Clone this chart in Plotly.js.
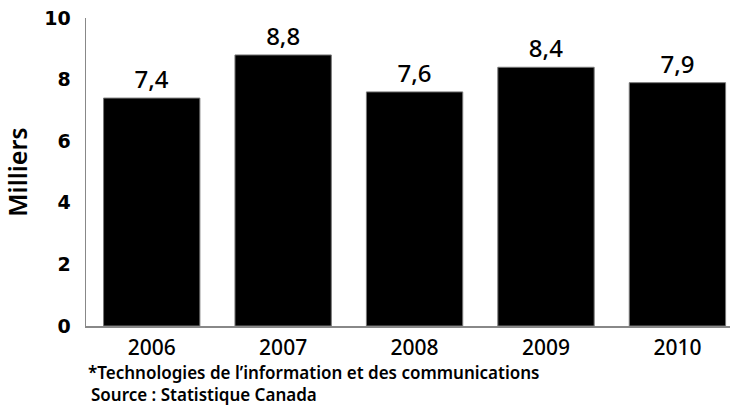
<!DOCTYPE html>
<html><head><meta charset="utf-8">
<script src="https://cdn.plot.ly/plotly-3.0.1.min.js"></script>
<style>html,body{margin:0;padding:0;background:#fff}#chart{width:730px;height:407px}</style>
</head><body><div id="chart"></div>
<script>
const years = ['2006', '2007', '2008', '2009', '2010'];
const valeurs = [7.4, 8.8, 7.6, 8.4, 7.9];
const yTicks = [0, 2, 4, 6, 8, 10];
const titreY = 'Milliers';
const note1 = '*Technologies de l\u2019information et des communications';
const note2 = 'Source : Statistique Canada';

const sans = '"Noto Sans", sans-serif';

const trace = {
  type: 'bar',
  x: years.map((_, i) => i),
  y: valeurs,
  marker: {color: '#000', line: {color: '#777', width: 1}},
  text: valeurs.map(v => v.toFixed(1).replace('.', ',')),
  textposition: 'outside',
  textfont: {family: sans, size: 24, color: '#000', weight: 500},
  cliponaxis: false,
  hoverinfo: 'none'
};

const layout = {
  width: 730, height: 407,
  margin: {l: 86, r: 0, t: 18, b: 81},
  paper_bgcolor: '#fff', plot_bgcolor: '#fff',
  showlegend: false,
  bargap: 0.267,
  separators: ', ',
  xaxis: {
    range: [-0.5, 4.4],
    tickmode: 'array', tickvals: years.map((_, i) => i), ticktext: years,
    showgrid: false, zeroline: false,
    showline: true, linecolor: '#888', linewidth: 1.5,
    ticks: '', ticklabelstandoff: 2,
    tickfont: {family: sans, size: 21, color: '#000', weight: 500}
  },
  yaxis: {
    range: [0, 10],
    tickmode: 'array', tickvals: yTicks, ticktext: yTicks.map(String),
    showgrid: false, zeroline: false,
    showline: true, linecolor: '#888', linewidth: 1.5,
    ticks: '', ticklabelstandoff: 10,
    tickfont: {family: '"DejaVu Sans", sans-serif', size: 19, color: '#000', weight: 700},
    title: {text: titreY, standoff: 12, font: {family: sans, size: 25, color: '#000', weight: 600}}
  },
  annotations: [
    {text: note1, xref: 'paper', yref: 'paper', x: 0.0, y: -0.152, xanchor: 'left', yanchor: 'middle', showarrow: false,
     font: {family: sans, size: 17, color: '#000', weight: 600}},
    {text: note2, xref: 'paper', yref: 'paper', x: 0.004, y: -0.222, xanchor: 'left', yanchor: 'middle', showarrow: false,
     font: {family: sans, size: 17, color: '#000', weight: 600}}
  ]
};

Plotly.newPlot('chart', [trace], layout, {staticPlot: true, displayModeBar: false});
</script></body></html>
